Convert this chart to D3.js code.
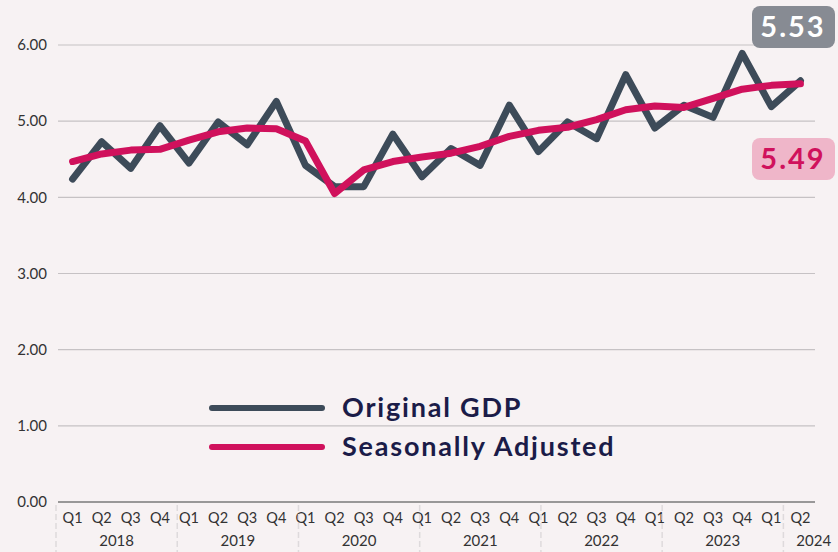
<!DOCTYPE html>
<html>
<head>
<meta charset="utf-8">
<script src="https://cdn.jsdelivr.net/npm/d3@7"></script>
<style>
  html, body { margin: 0; padding: 0; background: #f7f2f3; }
  body { font-family: Lato, 'Open Sans', sans-serif; }
  svg { display: block; }
</style>
</head>
<body>
<div id="chart"></div>
<script>
const quarters = ['Q1', 'Q2', 'Q3', 'Q4']
const years = ['2018', '2019', '2020', '2021', '2022', '2023', '2024']
const periods = []
years.forEach(y => quarters.forEach(q => { if (!(y == '2024' && (q == 'Q3' || q == 'Q4'))) periods.push(y + ' ' + q) }))

const originalGdp = [4.24, 4.73, 4.38, 4.94, 4.45, 4.99, 4.69, 5.26,
    4.42, 4.14, 4.14, 4.83, 4.27, 4.64, 4.42, 5.21,
    4.60, 4.99, 4.77, 5.61, 4.91, 5.21, 5.05, 5.89,
    5.19, 5.53]
const seasonallyAdjusted = [4.47, 4.57, 4.62, 4.63, 4.75, 4.86, 4.91, 4.90,
    4.74, 4.05, 4.36, 4.47, 4.53, 4.58, 4.67, 4.80,
    4.88, 4.92, 5.02, 5.15, 5.20, 5.18, 5.30, 5.42,
    5.47, 5.49]
const yTicks = [0, 1, 2, 3, 4, 5, 6]
const seriesNames = ['Original GDP', 'Seasonally Adjusted']
const seriesColors = ['#3d4b59', '#d0115c']

const width = 838
const height = 552
const dim = { left: 58, right: 815, top: 45, bottom: 502 }

const svg = d3.select('#chart').append('svg')
    .attr('width', width).attr('height', height)
svg.append('rect').attr('width', width).attr('height', height).attr('fill', '#f7f2f3')

const x = d3.scaleBand().domain(periods).range([dim.left, dim.right])
const xc = d => x(d) + x.bandwidth() / 2
const y = d3.scaleLinear().domain([0, 6]).range([dim.bottom, dim.top])
// year group axis runs on its own spacing, like the original
const yearX = d3.scaleLinear().domain([0, 26]).range([56, 844])

// grid
svg.append('g').selectAll('line')
    .data(yTicks.filter(d => d > 0))
    .join('line')
    .attr('x1', dim.left).attr('x2', dim.right)
    .attr('y1', d => y(d)).attr('y2', d => y(d))
    .attr('stroke', '#c6c2c4').attr('stroke-width', 1.2)

svg.append('line')
    .attr('x1', dim.left).attr('x2', dim.right)
    .attr('y1', y(0)).attr('y2', y(0))
    .attr('stroke', '#7a7a7a').attr('stroke-width', 1.3)

svg.append('g').selectAll('text')
    .data(yTicks)
    .join('text')
    .attr('x', 47).attr('y', d => y(d))
    .attr('dy', '0.35em')
    .attr('text-anchor', 'end')
    .attr('font-size', 15).attr('fill', '#333')
    .text(d => d3.format('.2f')(d))

// quarter labels
svg.append('g').selectAll('text')
    .data(periods)
    .join('text')
    .attr('x', d => xc(d)).attr('y', 518)
    .attr('dy', '0.35em')
    .attr('text-anchor', 'middle')
    .attr('font-size', 14.5).attr('fill', '#333')
    .text(d => d.split(' ')[1])

// year separators + labels
const yearStarts = years.map((d, i) => i * 4)
svg.append('g').selectAll('line')
    .data(yearStarts)
    .join('line')
    .attr('x1', d => yearX(d)).attr('x2', d => yearX(d))
    .attr('y1', 505).attr('y2', height)
    .attr('stroke', '#dedadc').attr('stroke-width', 1.5)
    .attr('stroke-dasharray', '6,3')

svg.append('g').selectAll('text')
    .data(years)
    .join('text')
    .attr('x', (d, i) => {
        const end = Math.min(i * 4 + 4, periods.length)
        return (yearX(i * 4) + yearX(end)) / 2
    })
    .attr('y', 541)
    .attr('dy', '0.35em')
    .attr('text-anchor', 'middle')
    .attr('font-size', 15).attr('fill', '#333')
    .text(d => d)

// lines
const line = d3.line()
    .x((d, i) => xc(periods[i]))
    .y(d => y(d))

const allSeries = [originalGdp, seasonallyAdjusted]
svg.append('g').selectAll('path')
    .data(allSeries)
    .join('path')
    .attr('d', d => line(d))
    .attr('fill', 'none')
    .attr('stroke', (d, i) => seriesColors[i])
    .attr('stroke-width', 7)
    .attr('stroke-linejoin', 'round')
    .attr('stroke-linecap', 'round')

// legend
const legend = svg.append('g')
seriesNames.forEach((name, i) => {
    const ly = 408 + i * 39
    legend.append('line')
        .attr('x1', 212).attr('x2', 322)
        .attr('y1', ly).attr('y2', ly)
        .attr('stroke', seriesColors[i]).attr('stroke-width', 6)
        .attr('stroke-linecap', 'round')
    legend.append('text')
        .attr('x', 342).attr('y', ly)
        .attr('dy', '0.35em')
        .attr('font-size', 27).attr('font-weight', 'bold')
        .attr('letter-spacing', 1.8)
        .attr('fill', '#1b1c48')
        .text(name)
})

// last value badges
const last = periods.length - 1
const badges = [
    { value: originalGdp[last], top: 6, fill: '#878b93', text: '#ffffff' },
    { value: seasonallyAdjusted[last], top: 138, fill: '#efb6c9', text: '#d0115c' }
]
const badge = svg.append('g').selectAll('g')
    .data(badges)
    .join('g')
badge.append('rect')
    .attr('x', 752).attr('y', d => d.top)
    .attr('width', 83).attr('height', 42)
    .attr('rx', 8)
    .attr('fill', d => d.fill)
badge.append('text')
    .attr('x', 793).attr('y', d => d.top + 21)
    .attr('dy', '0.36em')
    .attr('text-anchor', 'middle')
    .attr('font-size', 29).attr('font-weight', 'bold')
    .attr('letter-spacing', 2)
    .attr('fill', d => d.text)
    .text(d => d3.format('.2f')(d.value))
</script>
</body>
</html>
